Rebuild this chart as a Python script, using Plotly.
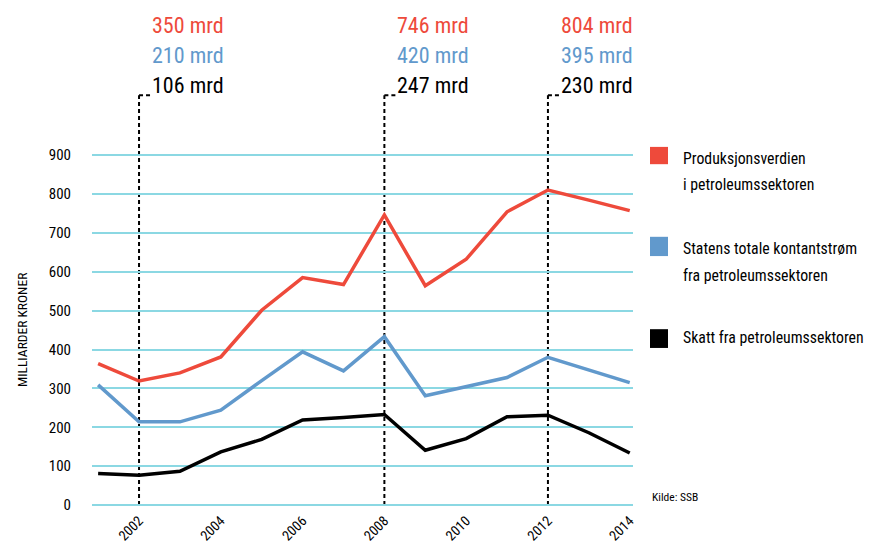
import plotly.graph_objects as go

# data (milliarder kroner)
years = list(range(2001, 2015))
produksjonsverdi = [364, 319, 340, 381, 501, 585, 567, 746, 564, 632, 754, 810, 784, 757]
kontantstrom = [309, 214, 214, 244, 320, 394, 345, 433, 281, 304, 328, 380, 347, 315]
skatt = [81, 77, 87, 137, 169, 219, 225, 233, 141, 171, 227, 231, 186, 134]

highlight_years = [2002, 2008, 2012]
highlight_prod = ["350 mrd", "746 mrd", "804 mrd"]
highlight_kontant = ["210 mrd", "420 mrd", "395 mrd"]
highlight_skatt = ["106 mrd", "247 mrd", "230 mrd"]

series_names = [
    ["Produksjonsverdien", "i petroleumssektoren"],
    ["Statens totale kontantstrøm", "fra petroleumssektoren"],
    ["Skatt fra petroleumssektoren"],
]

y_ticks = [0, 100, 200, 300, 400, 500, 600, 700, 800, 900]
x_ticks = [2002, 2004, 2006, 2008, 2010, 2012, 2014]

RED = "#ee4a3b"
BLUE = "#6199cc"
BLACK = "#000000"
GRID = "#8bd8e3"
FONT = "Liberation Sans Narrow, Roboto Condensed, DejaVu Sans Condensed, sans-serif"

fig = go.Figure()

for values, color in [(produksjonsverdi, RED), (kontantstrom, BLUE), (skatt, BLACK)]:
    fig.add_trace(
        go.Scatter(
            x=years,
            y=values,
            mode="lines",
            line=dict(color=color, width=3.5),
            showlegend=False,
            hoverinfo="x+y",
        )
    )

shapes = []
annotations = []

# dashed markers with a small hook at the top
for yr in highlight_years:
    shapes.append(dict(type="line", xref="x", yref="y", x0=yr, x1=yr, y0=0, y1=1054,
                       line=dict(color="black", width=2, dash="4px,3px"), layer="below"))
    shapes.append(dict(type="line", xref="x", yref="y", x0=yr, x1=yr + 0.32, y0=1054, y1=1054,
                       line=dict(color="black", width=2, dash="4px,3px"), layer="below"))

for yr, p, k, s in zip(highlight_years, highlight_prod, highlight_kontant, highlight_skatt):
    for txt, color, ypos in [(p, RED, 0.978), (k, BLUE, 0.919), (s, BLACK, 0.858)]:
        annotations.append(dict(x=yr, xref="x", y=ypos, yref="paper", text=txt,
                                showarrow=False, xanchor="right", yanchor="middle",
                                xshift=87, font=dict(family=FONT, size=22, color=color)))

# legend built by hand
legend_boxes = [(0.698, 0.733, RED), (0.512, 0.551, BLUE), (0.326, 0.364, BLACK)]
for y0, y1, color in legend_boxes:
    shapes.append(dict(type="rect", xref="paper", yref="paper", x0=1.0314, x1=1.0647,
                       y0=y0, y1=y1, fillcolor=color, line=dict(width=0)))

legend_rows = [[0.7105, 0.6559], [0.5283, 0.4717], [0.3462]]
for lines, rows in zip(series_names, legend_rows):
    for txt, ypos in zip(lines, rows):
        annotations.append(dict(x=1.089, xref="paper", y=ypos, yref="paper", text=txt,
                                showarrow=False, xanchor="left", yanchor="middle",
                                font=dict(family=FONT, size=15.8, color="black")))

annotations.append(dict(x=1.0314, xref="paper", y=0.0243, yref="paper", text="Kilde: SSB",
                        showarrow=False, xanchor="left", yanchor="middle",
                        font=dict(family=FONT, size=11.5, color="black")))

annotations.append(dict(x=-0.1294, xref="paper", y=450, yref="y", text="MILLIARDER KRONER",
                        showarrow=False, textangle=-90, xanchor="center", yanchor="middle",
                        font=dict(family=FONT, size=13.5, color="black")))

# the page body adds an 8px offset, so the figure is shrunk and the margins shifted
fig.update_layout(
    width=867,
    height=543,
    margin=dict(l=84, r=242, t=7, b=42),
    paper_bgcolor="white",
    plot_bgcolor="white",
    shapes=shapes,
    annotations=annotations,
    xaxis=dict(
        range=[2000.85, 2014.08],
        tickvals=x_ticks,
        tickangle=-45,
        showgrid=False,
        zeroline=False,
        showline=False,
        ticks="",
        tickfont=dict(family=FONT, size=14, color="black"),
    ),
    yaxis=dict(
        range=[-10, 1260],
        tickvals=y_ticks,
        showgrid=True,
        gridcolor=GRID,
        gridwidth=2,
        zeroline=False,
        showline=False,
        ticks="",
        ticklabelstandoff=20,
        tickfont=dict(family=FONT, size=15, color="black"),
    ),
)

fig.write_html("out.html")
